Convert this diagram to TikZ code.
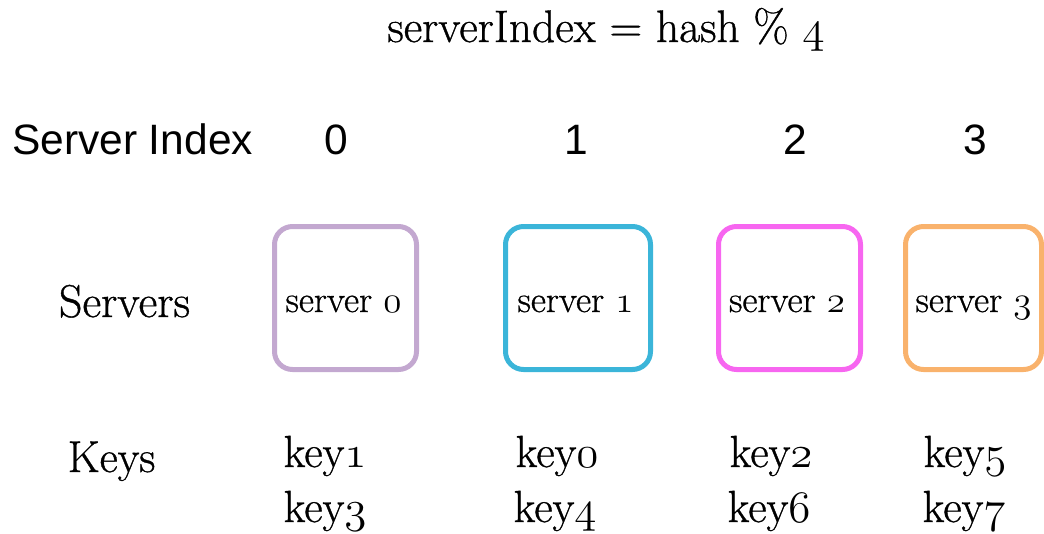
\RequirePackage{fix-cm}
\documentclass[tikz,border=0pt]{standalone}
\usepackage{fontspec}
\setmainfont{Latin Modern Roman}[FakeBold=0.8]
\newfontfamily\arialfont{Liberation Sans}
\newcommand{\osn}[1]{\ensuremath{\mathnormal{#1}}}
\definecolor{srvlilac}{HTML}{C3A8D0}
\definecolor{srvblue}{HTML}{3BB5D9}
\definecolor{srvpink}{HTML}{F766F0}
\definecolor{srvorange}{HTML}{F9B26C}
\begin{document}
\begin{tikzpicture}[x=1pt, y=-1pt,
    every node/.style={inner sep=0pt, anchor=base},
    serverbox/.style={draw=#1, line width=5pt, rounded corners=18pt, minimum height=143pt, anchor=center},
    sans/.style={font=\arialfont\fontsize{42.5}{48}\selectfont},
    serif/.style={font=\fontsize{46}{52}\selectfont},
    keytext/.style={font=\fontsize{45}{50}\selectfont},
    boxtext/.style={font=\fontsize{37}{42}\selectfont}]
    \useasboundingbox (0,0) rectangle (1044,533);
    % title
    \node[serif, font=\fontsize{45.5}{52}\selectfont] (title) at (606,42) {serverIndex = hash \% \osn{4}};
    % server index row
    \node[sans] (idxlabel) at (132.5,154) {Server Index};
    \node[sans] (idx0) at (336,154) {0};
    \node[sans] (idx1) at (576,154) {1};
    \node[sans] (idx2) at (795,154) {2};
    \node[sans] (idx3) at (975,154) {3};
    % servers row
    \node[serif] (srvlabel) at (124.5,317) {Servers};
    \node[serverbox=srvlilac, minimum width=142pt] (box0) at (345.5,298) {};
    \node[serverbox=srvblue, minimum width=145pt] (box1) at (578,298) {};
    \node[serverbox=srvpink, minimum width=142pt] (box2) at (789.5,298) {};
    \node[serverbox=srvorange, minimum width=136pt] (box3) at (973.5,298) {};
    \node[boxtext] (srv0) at (343.5,312) {server \osn{0}};
    \node[boxtext] (srv1) at (575.5,312) {server \osn{1}};
    \node[boxtext] (srv2) at (787,312) {server \osn{2}};
    \node[boxtext] (srv3) at (973.5,312) {server \osn{3}};
    % keys row
    \node[serif, font=\fontsize{44.5}{50}\selectfont] (keylabel) at (111.5,472) {Keys};
    \node[keytext] (key1) at (325,467) {key\osn{1}};
    \node[keytext] (key3) at (325,522) {key\osn{3}};
    \node[keytext] (key0) at (557,467) {key\osn{0}};
    \node[keytext] (key4) at (555,522) {key\osn{4}};
    \node[keytext] (key2) at (771,467) {key\osn{2}};
    \node[keytext] (key6) at (769,522) {key\osn{6}};
    \node[keytext] (key5) at (965,467) {key\osn{5}};
    \node[keytext] (key7) at (964,522) {key\osn{7}};
\end{tikzpicture}
\end{document}
